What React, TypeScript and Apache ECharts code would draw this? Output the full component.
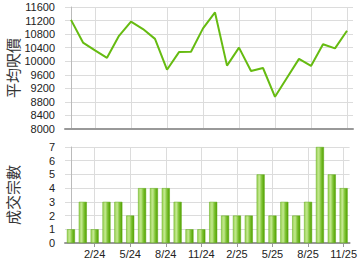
import React, { useEffect, useRef } from "react";
import * as echarts from "echarts";

const months = [
  "12/23", "1/24", "2/24", "3/24", "4/24", "5/24", "6/24", "7/24", "8/24", "9/24", "10/24", "11/24",
  "12/24", "1/25", "2/25", "3/25", "4/25", "5/25", "6/25", "7/25", "8/25", "9/25", "10/25", "11/25",
];
const avgPrice = [
  11220, 10550, 10320, 10100, 10750, 11170, 10950, 10660, 9750, 10270, 10280, 10970,
  11440, 9870, 10400, 9710, 9800, 8950, 9510, 10070, 9860, 10500, 10380, 10900,
];
const deals = [1, 3, 1, 3, 3, 2, 4, 4, 4, 3, 1, 1, 3, 2, 2, 2, 5, 2, 3, 2, 3, 7, 5, 4];
const tickIdx = [2, 5, 8, 11, 14, 17, 20, 23];

export default function App() {
  const ref = useRef<HTMLDivElement>(null);
  useEffect(() => {
    if (!ref.current) return;
    const chart = echarts.init(ref.current, undefined, { renderer: "svg" });
    const font = "Liberation Sans, Arial, sans-serif";
    const xAxisBase = (gridIndex: number, showLabel: boolean) => ({
      type: "value",
      gridIndex,
      min: -0.5,
      max: 23.5,
      axisLine: { show: true, lineStyle: { color: "#999", width: 2 } },
      axisTick: {
        show: showLabel,
        customValues: tickIdx,
        length: 4,
        lineStyle: { color: "#999" },
      },
      axisLabel: {
        show: showLabel,
        customValues: tickIdx,
        formatter: (v: number) => months[Math.round(v)],
        color: "#222",
        fontSize: 11,
        fontFamily: font,
        margin: 5,
      },
      splitLine: { show: true, lineStyle: { color: "#dcdcdc", width: 1 } },
    });
    const barGrad = new echarts.graphic.LinearGradient(0, 0, 1, 0, [
      { offset: 0, color: "#9fd45a" },
      { offset: 0.35, color: "#c2e88e" },
      { offset: 0.65, color: "#7fc335" },
      { offset: 1, color: "#52a000" },
    ]);
    const yLabel = { color: "#222", fontSize: 11, fontFamily: font, margin: 10, formatter: (v: number) => String(v) };
    chart.setOption({
      animation: false,
      grid: [
        { left: 65, right: 7, top: 7, height: 122 },
        { left: 65, right: 7, top: 147, height: 96 },
      ],
      xAxis: [xAxisBase(0, false), xAxisBase(1, true)],
      yAxis: [
        {
          type: "value",
          gridIndex: 0,
          min: 8000,
          max: 11600,
          interval: 400,
          axisLine: { show: true, lineStyle: { color: "#bbb" } },
          axisTick: { show: false },
          axisLabel: yLabel,
          splitLine: { show: true, lineStyle: { color: "#dcdcdc" } },
        },
        {
          type: "value",
          gridIndex: 1,
          min: 0,
          max: 7,
          interval: 1,
          axisLine: { show: true, lineStyle: { color: "#bbb" } },
          axisTick: { show: false },
          axisLabel: yLabel,
          splitLine: { show: true, lineStyle: { color: "#dcdcdc" } },
        },
      ],
      graphic: [
        {
          type: "text",
          x: 5,
          y: 68,
          rotation: Math.PI / 2,
          style: {
            text: "平均呎價",
            fill: "#333",
            font: "15px 'Noto Sans CJK TC', sans-serif",
            align: "center",
            verticalAlign: "top",
          },
        },
        {
          type: "text",
          x: 5,
          y: 195,
          rotation: Math.PI / 2,
          style: {
            text: "成交宗數",
            fill: "#333",
            font: "15px 'Noto Sans CJK TC', sans-serif",
            align: "center",
            verticalAlign: "top",
          },
        },
      ],
      series: [
        {
          type: "line",
          xAxisIndex: 0,
          yAxisIndex: 0,
          data: avgPrice.map((v, i) => [i, v]),
          symbol: "none",
          lineStyle: { color: "#66bb11", width: 2 },
        },
        {
          type: "bar",
          xAxisIndex: 1,
          yAxisIndex: 1,
          data: deals.map((v, i) => [i, v]),
          barWidth: 8,
          itemStyle: { color: barGrad, borderColor: "#5aab10", borderWidth: 0.5 },
        },
      ],
    });
    return () => chart.dispose();
  }, []);
  return <div ref={ref} style={{ width: 360, height: 270, position: "absolute", left: 0, top: 0 }} />;
}
